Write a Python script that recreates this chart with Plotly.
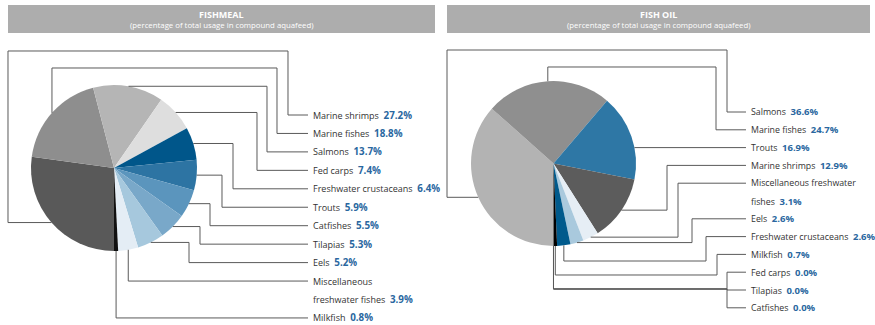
import math
import plotly.graph_objects as go

W, H = 875, 325

# ---------------- data ----------------
fm_labels = ["Marine shrimps", "Marine fishes", "Salmons", "Fed carps",
             "Freshwater crustaceans", "Trouts", "Catfishes", "Tilapias", "Eels",
             "Miscellaneous\nfreshwater fishes", "Milkfish"]
fm_values = [27.2, 18.8, 13.7, 7.4, 6.4, 5.9, 5.5, 5.3, 5.2, 3.9, 0.8]
fm_colors = ["#595959", "#8e8e8e", "#b5b5b5", "#dedede", "#00568a", "#2d74a3",
             "#5b95bd", "#79a8c9", "#a6c8dd", "#e4edf5", "#111111"]

fo_labels = ["Salmons", "Marine fishes", "Trouts", "Marine shrimps",
             "Miscellaneous freshwater\nfishes", "Eels", "Freshwater crustaceans",
             "Milkfish", "Fed carps", "Tilapias", "Catfishes"]
fo_values = [36.6, 24.7, 16.9, 12.9, 3.1, 2.6, 2.6, 0.7, 0.0, 0.0, 0.0]
fo_colors = ["#b3b3b3", "#8f8f8f", "#2e77a5", "#5c5c5c", "#e6eef5", "#a9c9dd",
             "#005a8c", "#000000", "#cccccc", "#cccccc", "#cccccc"]

titles = ["FISHMEAL", "FISH OIL"]
subtitle = "(percentage of total usage in compound aquafeed)"

# ---------------- layout geometry (pixels) ----------------
panels = [
    dict(labels=fm_labels, values=fm_values, colors=fm_colors,
         cx=114, cy=168, r=83, label_x=312, row0=115, step=18.45,
         bar=(8, 435), fsize=9, vsize=9.8,
         routes=[("loop", 8, 51, 288), ("up", 68, 277), ("elbow", 267), ("elbow", 257),
                 ("elbow", 233), ("elbow", 222), ("elbow", 210), ("elbow", 200),
                 ("elbow", 189), ("down",), ("down",)]),
    dict(labels=fo_labels, values=fo_values, colors=fo_colors,
         cx=553.5, cy=163.5, r=82.5, label_x=750, row0=112, step=17.8,
         bar=(447, 870), fsize=8.8, vsize=9.5,
         routes=[("loop", 447, 50, 727), ("up", 67, 716), ("straight",), ("elbow", 667),
                 ("elbow", 678), ("elbow", 692), ("dropelbow", 261, 706),
                 ("dropelbow", 275, 717), ("dropelbow", 289, 727),
                 ("dropelbow", 289, 727), ("dropelbow", 289, 727)]),
]

VAL_COLOR = "#2a67a0"
TXT_COLOR = "#333333"
LINE_COLOR = "#5a5a5a"
FONT = "Open Sans"


def px(x):
    return x / W


def py(y):
    return 1 - y / H


fig = go.Figure()
shapes = []
annotations = []

for p in panels:
    cx, cy, r = p["cx"], p["cy"], p["r"]
    fig.add_trace(go.Pie(
        labels=[l.replace("\n", " ") for l in p["labels"]], values=p["values"],
        sort=False, direction="clockwise", rotation=180,
        marker=dict(colors=p["colors"], line=dict(width=0)),
        textinfo="none", hoverinfo="label+value", showlegend=False,
        domain=dict(x=[px(cx - r), px(cx + r)], y=[py(cy + r), py(cy - r)]),
    ))

    # header bar
    x0, x1 = p["bar"]
    shapes.append(dict(type="rect", xref="paper", yref="paper",
                       x0=px(x0), x1=px(x1), y0=py(33), y1=py(5),
                       fillcolor="#adadad", line=dict(width=0), layer="below"))

    total = sum(p["values"])
    cum = 0.0
    row = 0
    end_x = p["label_x"] - 4
    for lab, val, route in zip(p["labels"], p["values"], p["routes"]):
        mid = 180 + (cum + val / 2) / total * 360
        cum += val
        a = math.radians(mid)
        mx = cx + r * math.sin(a)
        my = cy - r * math.cos(a)
        ly = p["row0"] + row * p["step"]
        kind = route[0]
        if kind == "loop":
            pts = [(mx, my), (route[1], my), (route[1], route[2]), (route[3], route[2]),
                   (route[3], ly), (end_x, ly)]
        elif kind == "up":
            pts = [(mx, my), (mx, route[1]), (route[2], route[1]), (route[2], ly), (end_x, ly)]
        elif kind == "elbow":
            pts = [(mx, my), (route[1], my), (route[1], ly), (end_x, ly)]
        elif kind == "down":
            pts = [(mx, my), (mx, ly), (end_x, ly)]
        elif kind == "straight":
            ex = cx + math.sqrt(max(r * r - (ly - cy) ** 2, 0))
            pts = [(ex, ly), (end_x, ly)]
        else:  # dropelbow
            pts = [(mx, my), (mx, route[1]), (route[2], route[1]), (route[2], ly), (end_x, ly)]
        path = "M " + " L ".join(f"{px(x):.5f},{py(y):.5f}" for x, y in pts)
        shapes.append(dict(type="path", xref="paper", yref="paper", path=path,
                           line=dict(color=LINE_COLOR, width=1)))

        parts = lab.split("\n")
        for i, part in enumerate(parts):
            text = part
            if i == len(parts) - 1:
                text += (f"  <b><span style='color:{VAL_COLOR};font-size:{p['vsize']}px'>"
                         f"{val:.1f}%</span></b>")
            annotations.append(dict(
                xref="paper", yref="paper", x=px(p["label_x"]),
                y=py(p["row0"] + row * p["step"]),
                xanchor="left", yanchor="middle", showarrow=False, text=text,
                font=dict(family=FONT, size=p["fsize"], color=TXT_COLOR), borderpad=0))
            row += 1

# titles
for t, p in zip(titles, panels):
    x0, x1 = p["bar"]
    xc = px((x0 + x1) / 2)
    annotations.append(dict(xref="paper", yref="paper", x=xc, y=py(14.5),
                            xanchor="center", yanchor="middle", showarrow=False,
                            text=f"<b>{t}</b>",
                            font=dict(family=FONT, size=9, color="white")))
    annotations.append(dict(xref="paper", yref="paper", x=xc, y=py(25),
                            xanchor="center", yanchor="middle", showarrow=False,
                            text=subtitle,
                            font=dict(family=FONT, size=7.8, color="white")))

fig.update_layout(width=W, height=H, margin=dict(l=0, r=0, t=0, b=0),
                  paper_bgcolor="white", plot_bgcolor="white",
                  shapes=shapes, annotations=annotations)

fig.write_html("out.html", config={"displayModeBar": False})
